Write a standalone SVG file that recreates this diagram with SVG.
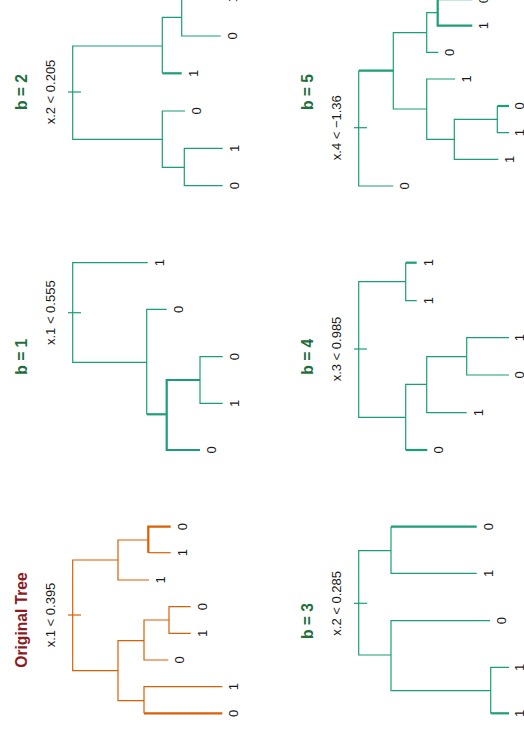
<svg xmlns="http://www.w3.org/2000/svg" width="524" height="734" viewBox="0 0 524 734">
<style>
  .o { fill: none; stroke: #D95F02; stroke-width: 1.2; }
  .g { fill: none; stroke: #1B9E77; stroke-width: 1.2; }
  .t { stroke-width: 2.2; }
  .lbl { font-family: "Liberation Sans", Arial, sans-serif; font-size: 13px; fill: #1a1a1a; text-anchor: middle; }
  .ttl { font-family: "Liberation Sans", Arial, sans-serif; font-size: 15.6px; font-weight: bold; text-anchor: middle; }
  .red { fill: #8C1B1F; }
  .grn { fill: #1F6E3C; }
</style>
<rect width="524" height="734" fill="#ffffff"/>

<g id="original-tree">
  <text class="ttl red" transform="translate(26.7,620) rotate(-90)">Original Tree</text>
  <text class="lbl" transform="translate(55,615) rotate(-90)">x.1 &lt; 0.395</text>
  <g id="original-connectors">
    <path class="o" d="M118,560 H72.7 V670.7 H118"/>
    <path class="o" d="M68,615 H81"/>
    <path class="o" d="M148.3,540 H118 V580 H149"/>
    <path class="o t" d="M170.7,526.7 H148.3 V552.7"/>
    <path class="o" d="M148.3,552.7 H170.7"/>
    <path class="o" d="M144,640.7 H118 V700.7 H144"/>
    <path class="o" d="M169,620 H144 V660 H168.3"/>
    <path class="o" d="M190.7,606.7 H169 V633.3 H190.7"/>
    <path class="o" d="M222.3,686.7 H144 V713.3"/>
    <path class="o t" d="M144,713.3 H222.3"/>
  </g>
  <g id="original-leaves">
    <text class="lbl" transform="translate(186.7,526.7) rotate(-90)">0</text>
    <text class="lbl" transform="translate(186.7,552.7) rotate(-90)">1</text>
    <text class="lbl" transform="translate(165,580) rotate(-90)">1</text>
    <text class="lbl" transform="translate(206.7,606.7) rotate(-90)">0</text>
    <text class="lbl" transform="translate(206.7,633.3) rotate(-90)">1</text>
    <text class="lbl" transform="translate(184.3,660) rotate(-90)">0</text>
    <text class="lbl" transform="translate(238.3,686.7) rotate(-90)">1</text>
    <text class="lbl" transform="translate(238.3,713.3) rotate(-90)">0</text>
  </g>
</g>

<g id="tree-b1">
  <text class="ttl grn" transform="translate(26.7,356.7) rotate(-90)">b = 1</text>
  <text class="lbl" transform="translate(55,312.7) rotate(-90)">x.1 &lt; 0.555</text>
  <g id="b1-connectors">
    <path class="g" d="M147.7,262.7 H72.7 V362.3 H146.7"/>
    <path class="g" d="M68,312.7 H81"/>
    <path class="g" d="M166.7,309.3 H146.7 V414.3"/>
    <path class="g t" d="M146.7,414.3 H166.7"/>
    <path class="g t" d="M200,380 H166.7 V450 H200"/>
    <path class="g" d="M222.7,356.7 H200 V403.3 H222.7"/>
  </g>
  <g id="b1-leaves">
    <text class="lbl" transform="translate(163.7,262.7) rotate(-90)">1</text>
    <text class="lbl" transform="translate(182.7,309.3) rotate(-90)">0</text>
    <text class="lbl" transform="translate(238.7,356.7) rotate(-90)">0</text>
    <text class="lbl" transform="translate(238.7,403.3) rotate(-90)">1</text>
    <text class="lbl" transform="translate(216,450) rotate(-90)">0</text>
  </g>
</g>

<g id="tree-b2">
  <text class="ttl grn" transform="translate(26.7,92) rotate(-90)">b = 2</text>
  <text class="lbl" transform="translate(55,92) rotate(-90)">x.2 &lt; 0.205</text>
  <g id="b2-connectors">
    <path class="g" d="M162.3,46 H72.7 V139.3 H162.3"/>
    <path class="g" d="M68,92 H81"/>
    <path class="g" d="M181.7,17.3 H162.3 V73.3"/>
    <path class="g t" d="M162.3,73.3 H181.7"/>
    <path class="g" d="M220.7,-1.4 H181.7 V36 H220.7"/>
    <path class="g" d="M185,111 H162.3 V167.3 H184.3"/>
    <path class="g" d="M222.7,148.3 H184.3 V185.7 H222.7"/>
  </g>
  <g id="b2-leaves">
    <text class="lbl" transform="translate(236.7,-1.4) rotate(-90)">1</text>
    <text class="lbl" transform="translate(236.7,36) rotate(-90)">0</text>
    <text class="lbl" transform="translate(197.7,73.3) rotate(-90)">1</text>
    <text class="lbl" transform="translate(201,111) rotate(-90)">0</text>
    <text class="lbl" transform="translate(238.7,148.3) rotate(-90)">1</text>
    <text class="lbl" transform="translate(238.7,185.7) rotate(-90)">0</text>
  </g>
</g>

<g id="tree-b5">
  <text class="ttl grn" transform="translate(312.7,92) rotate(-90)">b = 5</text>
  <text class="lbl" transform="translate(340.7,127.7) rotate(-90)">x.4 &lt; −1.36</text>
  <g id="b5-connectors">
    <path class="g t" d="M393.3,70.7 H358.7"/>
    <path class="g" d="M358.7,70.7 V186 H393.3"/>
    <path class="g" d="M354,127.7 H367"/>
    <path class="g" d="M426.7,32.7 H393.3 V109 H426.7"/>
    <path class="g" d="M437.7,12.7 H426.7 V52.3 H438.3"/>
    <path class="g" d="M472.3,-0.3 H437.7"/>
    <path class="g t" d="M437.7,-0.3 V25.7 H472.3"/>
    <path class="g" d="M455,79 H426.7 V139.3 H454.3"/>
    <path class="g" d="M497.3,119.3 H454.3 V159.3 H498.3"/>
    <path class="g t" d="M509,106 H497.3"/>
    <path class="g" d="M497.3,106 V132.7 H509"/>
  </g>
  <g id="b5-leaves">
    <text class="lbl" transform="translate(488.3,-0.3) rotate(-90)">0</text>
    <text class="lbl" transform="translate(488.3,25.7) rotate(-90)">1</text>
    <text class="lbl" transform="translate(454.3,52.3) rotate(-90)">0</text>
    <text class="lbl" transform="translate(471,79) rotate(-90)">1</text>
    <text class="lbl" transform="translate(524,106) rotate(-90)">0</text>
    <text class="lbl" transform="translate(524,132.7) rotate(-90)">1</text>
    <text class="lbl" transform="translate(513.5,159.3) rotate(-90)">1</text>
    <text class="lbl" transform="translate(409.3,186) rotate(-90)">0</text>
  </g>
</g>

<g id="tree-b4">
  <text class="ttl grn" transform="translate(312.7,356.7) rotate(-90)">b = 4</text>
  <text class="lbl" transform="translate(340.7,349) rotate(-90)">x.3 &lt; 0.985</text>
  <g id="b4-connectors">
    <path class="g" d="M405.7,281.7 H358.7 V417.3 H405.7"/>
    <path class="g" d="M354,349 H367"/>
    <path class="g t" d="M416.7,262.7 H405.7"/>
    <path class="g" d="M405.7,262.7 V300.7 H416.7"/>
    <path class="g" d="M426.7,384.3 H405.7 V450"/>
    <path class="g t" d="M405.7,450 H427.3"/>
    <path class="g" d="M466.7,356.7 H426.7 V412.7 H466.7"/>
    <path class="g" d="M509,337.7 H466.7 V375 H509"/>
  </g>
  <g id="b4-leaves">
    <text class="lbl" transform="translate(432.7,262.7) rotate(-90)">1</text>
    <text class="lbl" transform="translate(432.7,300.7) rotate(-90)">1</text>
    <text class="lbl" transform="translate(524,337.7) rotate(-90)">1</text>
    <text class="lbl" transform="translate(524,375) rotate(-90)">0</text>
    <text class="lbl" transform="translate(482.7,412.7) rotate(-90)">1</text>
    <text class="lbl" transform="translate(443.3,450) rotate(-90)">0</text>
  </g>
</g>

<g id="tree-b3">
  <text class="ttl grn" transform="translate(312.7,621) rotate(-90)">b = 3</text>
  <text class="lbl" transform="translate(340.7,603.3) rotate(-90)">x.2 &lt; 0.285</text>
  <g id="b3-connectors">
    <path class="g" d="M391,550.7 H358.7 V655 H391"/>
    <path class="g" d="M354,603.3 H367"/>
    <path class="g t" d="M476.7,526.7 H391"/>
    <path class="g" d="M391,526.7 V573.3 H476.7"/>
    <path class="g" d="M490,620.7 H391 V690.7 H490.7"/>
    <path class="g" d="M509,667.3 H490.7 V713.3"/>
    <path class="g t" d="M490.7,713.3 H509"/>
  </g>
  <g id="b3-leaves">
    <text class="lbl" transform="translate(492.7,526.7) rotate(-90)">0</text>
    <text class="lbl" transform="translate(492.7,573.3) rotate(-90)">1</text>
    <text class="lbl" transform="translate(506,620.7) rotate(-90)">0</text>
    <text class="lbl" transform="translate(524,667.3) rotate(-90)">1</text>
    <text class="lbl" transform="translate(524,713.3) rotate(-90)">1</text>
  </g>
</g>
</svg>
